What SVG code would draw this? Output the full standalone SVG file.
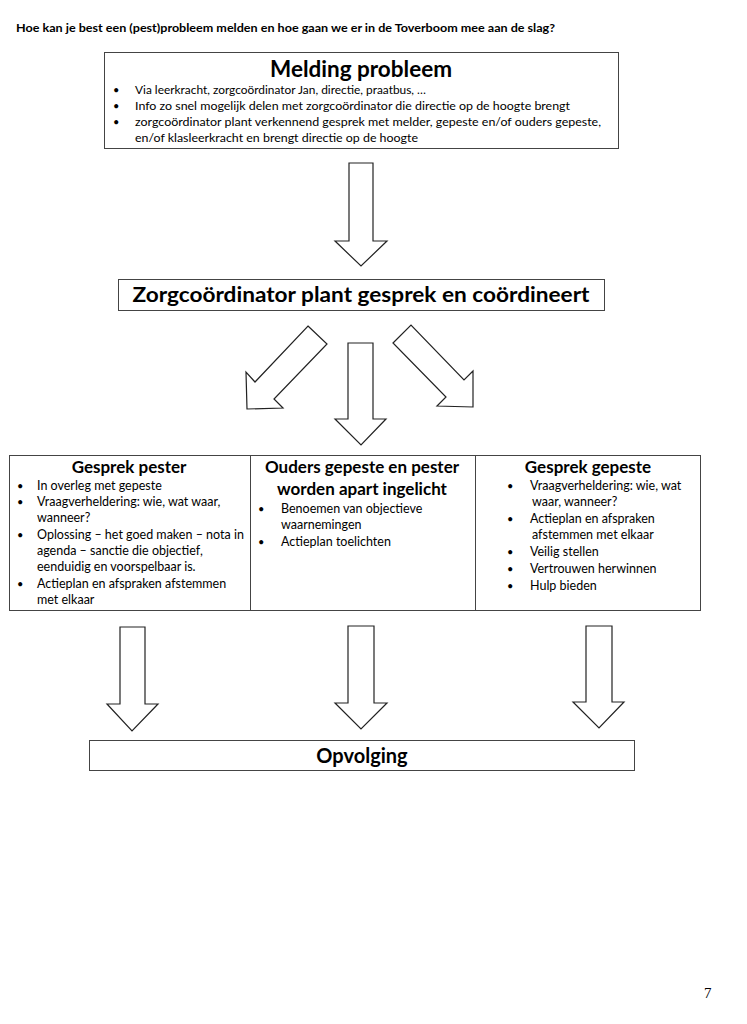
<svg xmlns="http://www.w3.org/2000/svg" width="747" height="1024" viewBox="0 0 747 1024">
<style>
text{font-family:Lato,"Open Sans","Liberation Sans",sans-serif;fill:#000}
.box{fill:#fff;stroke:#444;stroke-width:1}
.arr{fill:#fff;stroke:#222;stroke-width:1.2;stroke-linejoin:miter}
.h1{font-size:22px;font-weight:bold;text-anchor:middle}
.h2{font-size:20px;font-weight:bold;text-anchor:middle}
.h3{font-size:17px;font-weight:bold;text-anchor:middle}
.t{font-size:12px}
.c{font-size:12.5px}
.b{font-size:11px}
</style>
<rect width="747" height="1024" fill="#fff"/>
<text x="16" y="32" style="font-size:11px;font-weight:bold" textLength="539" lengthAdjust="spacingAndGlyphs">Hoe kan je best een (pest)probleem melden en hoe gaan we er in de Toverboom mee aan de slag?</text>

<g id="melding">
<rect class="box" x="104.5" y="52.5" width="514" height="96"/>
<text class="h1" x="361" y="77" textLength="182" lengthAdjust="spacingAndGlyphs">Melding probleem</text>
<text class="b" x="113" y="94">•</text>
<text class="t" x="135" y="94" textLength="291" lengthAdjust="spacingAndGlyphs">Via leerkracht, zorgcoördinator Jan, directie, praatbus, …</text>
<text class="b" x="113" y="110">•</text>
<text class="t" x="135" y="110" textLength="435" lengthAdjust="spacingAndGlyphs">Info zo snel mogelijk delen met zorgcoördinator die directie op de hoogte brengt</text>
<text class="b" x="113" y="126">•</text>
<text class="t" x="135" y="126" textLength="466" lengthAdjust="spacingAndGlyphs">zorgcoördinator plant verkennend gesprek met melder, gepeste en/of ouders gepeste,</text>
<text class="t" x="135" y="141.5" textLength="283" lengthAdjust="spacingAndGlyphs">en/of klasleerkracht en brengt directie op de hoogte</text>
</g>

<g id="zorg">
<rect class="box" x="118.5" y="279.5" width="486" height="31"/>
<text class="h2" x="361" y="302" textLength="457" lengthAdjust="spacingAndGlyphs">Zorgcoördinator plant gesprek en coördineert</text>
</g>

<g id="pester">
<rect class="box" x="9.5" y="455.5" width="241" height="155"/>
<text class="h3" x="129" y="473">Gesprek pester</text>
<text class="b" x="17" y="490">•</text><text class="c" x="37" y="490">In overleg met gepeste</text>
<text class="b" x="17" y="506">•</text><text class="c" x="37" y="506">Vraagverheldering: wie, wat waar,</text>
<text class="c" x="37" y="522">wanneer?</text>
<text class="b" x="17" y="539">•</text><text class="c" x="37" y="539">Oplossing – het goed maken – nota in</text>
<text class="c" x="37" y="555">agenda – sanctie die objectief,</text>
<text class="c" x="37" y="571">eenduidig en voorspelbaar is.</text>
<text class="b" x="17" y="588">•</text><text class="c" x="37" y="588">Actieplan en afspraken afstemmen</text>
<text class="c" x="37" y="604">met elkaar</text>
</g>

<g id="ouders">
<rect class="box" x="250.5" y="455.5" width="225" height="155"/>
<text class="h3" x="362" y="473">Ouders gepeste en pester</text>
<text class="h3" x="362" y="495">worden apart ingelicht</text>
<text class="b" x="258" y="513">•</text><text class="c" x="281" y="513">Benoemen van objectieve</text>
<text class="c" x="281" y="529">waarnemingen</text>
<text class="b" x="258" y="546">•</text><text class="c" x="281" y="546">Actieplan toelichten</text>
</g>

<g id="gepeste">
<rect class="box" x="475.5" y="455.5" width="225" height="155"/>
<text class="h3" x="588" y="473">Gesprek gepeste</text>
<text class="b" x="507" y="490">•</text><text class="c" x="530" y="490">Vraagverheldering: wie, wat</text>
<text class="c" x="532" y="506">waar, wanneer?</text>
<text class="b" x="507" y="523">•</text><text class="c" x="530" y="523">Actieplan en afspraken</text>
<text class="c" x="532" y="539">afstemmen met elkaar</text>
<text class="b" x="507" y="556">•</text><text class="c" x="530" y="556">Veilig stellen</text>
<text class="b" x="507" y="573">•</text><text class="c" x="530" y="573">Vertrouwen herwinnen</text>
<text class="b" x="507" y="590">•</text><text class="c" x="530" y="590">Hulp bieden</text>
</g>

<g id="opvolging">
<rect class="box" x="89.5" y="740.5" width="545" height="30"/>
<text class="h2" x="362" y="763">Opvolging</text>
</g>

<g id="connectors">
<polygon class="arr" points="349,163 373,163 373,241 387,241 361,266 335,241 349,241"/>
<polygon class="arr" points="308,326 327,344 274,399 283,408 247,409 246,372 255,382"/>
<polygon class="arr" points="348,343 373,343 373,419 386,419 361,445 335,419 348,419"/>
<polygon class="arr" points="393,343 411,325 464,380 473,371 473,407 437,406 446,397"/>
<polygon class="arr" points="120,627 145,627 145,704 158,704 132,731 107,704 120,704"/>
<polygon class="arr" points="348,626 374,626 374,703 387,703 361,729 335,703 348,703"/>
<polygon class="arr" points="586,626 612,626 612,702 624,702 599,728 573,702 586,702"/>
</g>

<text x="704" y="998" style="font-family:'Liberation Serif',serif;font-size:15px">7</text>
</svg>
